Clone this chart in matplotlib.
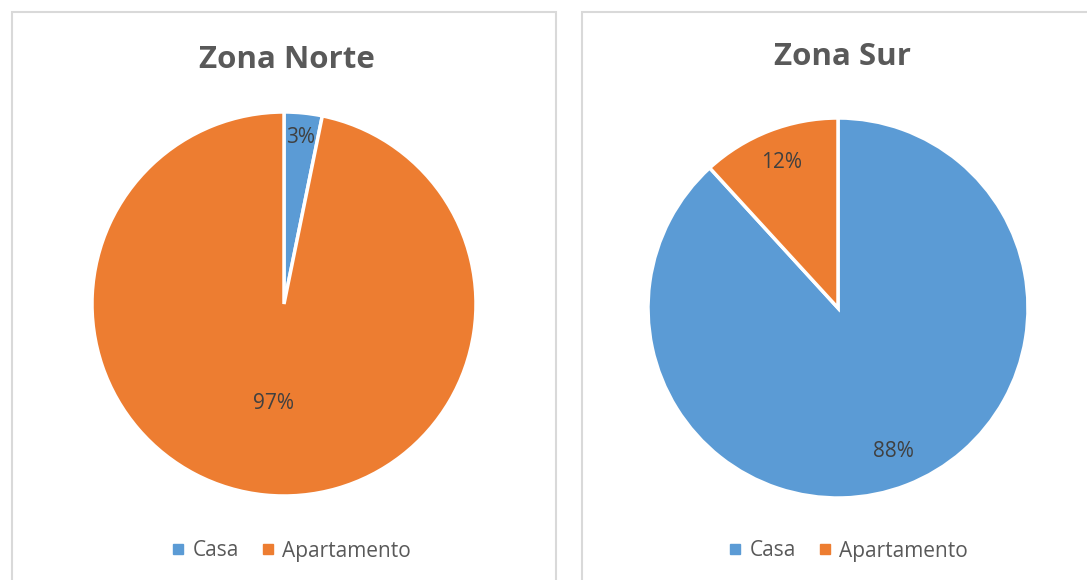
import matplotlib.pyplot as plt
from matplotlib.patches import Rectangle
from matplotlib.lines import Line2D
import numpy as np

categories = ['Casa', 'Apartamento']
norte_values = [3.2, 96.8]
sur_values = [88.2, 11.8]
titles = ['Zona Norte', 'Zona Sur']
colors = ['#5B9BD5', '#ED7D31']

W, H = 1087, 580
fig = plt.figure(figsize=(W / 100, H / 100), dpi=100)
plt.rcParams['font.family'] = ['Open Sans', 'DejaVu Sans']


def px_axes(cx, cy, r):
    return fig.add_axes([(cx - r) / W, 1 - (cy + r) / H, 2 * r / W, 2 * r / H])


# panel frames
for x0, x1 in [(12, 556), (582, 1100)]:
    fig.patches.append(Rectangle((x0 / W, -0.05), (x1 - x0) / W, 1 - 12 / H + 0.05,
                                 transform=fig.transFigure, fill=False,
                                 edgecolor='#D9D9D9', linewidth=1.5))

panels = [
    (norte_values, (284, 304, 192), [0.87, 0.52], 287, 60, 290),
    (sur_values, (838, 308, 190), [0.81, 0.82], 843, 57, 847),
]

for (vals, (cx, cy, r), dists, tx, ty, lx), title in zip(panels, titles):
    ax = px_axes(cx, cy, r)
    wedges, _ = ax.pie(vals, colors=colors, startangle=90, counterclock=False,
                       radius=1, wedgeprops=dict(edgecolor='white', linewidth=2.5))
    ax.set_xlim(-1, 1)
    ax.set_ylim(-1, 1)
    ax.set_aspect('equal')
    ax.axis('off')
    for w, v, d in zip(wedges, vals, dists):
        ang = np.deg2rad((w.theta1 + w.theta2) / 2)
        ax.text(d * np.cos(ang), d * np.sin(ang), f'{round(v)}%', ha='center', va='center',
                fontsize=15, color='#404040')
    fig.text(tx / W, 1 - ty / H, title, ha='center', va='center', fontsize=22.5,
             fontweight='bold', color='#595959')
    handles = [Line2D([], [], marker='s', linestyle='none', markersize=7,
                      markerfacecolor=c, markeredgecolor=c) for c in colors]
    fig.legend(handles, categories, loc='center', bbox_to_anchor=(lx / W, 1 - 551 / H),
               ncol=2, frameon=False, fontsize=15, labelcolor='#595959',
               handletextpad=0.25, columnspacing=0.9, handlelength=0.9)

fig.savefig('out.png', dpi=100)
